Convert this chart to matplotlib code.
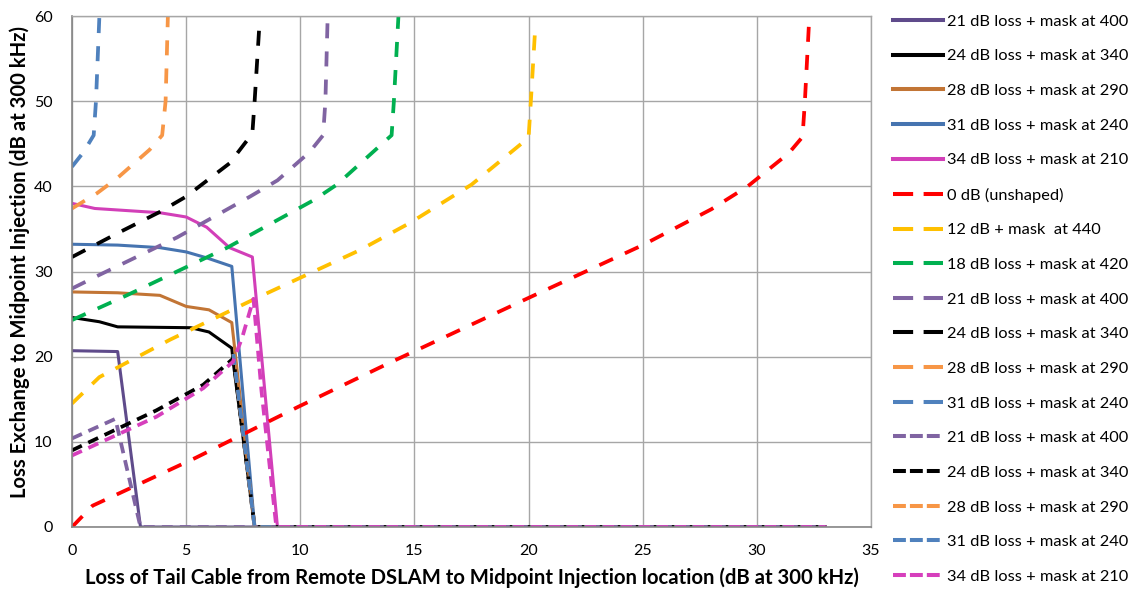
import numpy as np
import matplotlib
matplotlib.use('Agg')
import matplotlib.pyplot as plt

plt.rcParams['font.family'] = ['Lato', 'DejaVu Sans']

#------------------------------------------------------------------------------
# data (x = tail loss dB, y = exchange loss dB)
#------------------------------------------------------------------------------

# solid curves
s21_x = [0, 2.0, 3.0, 33]
s21_y = [20.7, 20.6, 0, 0]
s24_x = [0, 1.2, 2.0, 5.2, 6.0, 7.0, 7.05, 8.0, 33]
s24_y = [24.6, 24.1, 23.5, 23.4, 22.9, 21.0, 19.6, 0, 0]
s28_x = [0, 2.0, 3.85, 5.0, 6.0, 7.0, 8.0, 33]
s28_y = [27.6, 27.5, 27.2, 25.9, 25.5, 24.0, 0, 0]
s31_x = [0, 2.0, 3.85, 5.0, 5.9, 7.0, 8.0, 33]
s31_y = [33.2, 33.1, 32.8, 32.3, 31.6, 30.6, 0, 0]
s34_x = [0, 1.0, 3.85, 5.0, 5.9, 6.9, 7.9, 9.0, 33]
s34_y = [38.0, 37.4, 36.9, 36.4, 35.2, 32.8, 31.7, 0, 0]

# long dashed curves
d0_x = [0, 0.9, 5.4, 9.9, 13.85, 20, 25, 28, 29.6, 31.4, 32.0, 32.1, 32.3]
d0_y = [0, 2.5, 8.1, 14.1, 19.2, 26.9, 33.1, 37.3, 40.0, 43.9, 45.8, 49.8, 60]
d12_x = [0, 1.2, 4.3, 8.1, 12.6, 14.8, 17.5, 20.0, 20.1, 20.3]
d12_y = [14.5, 17.6, 22.0, 26.9, 32.5, 35.7, 40.2, 45.7, 50, 59]
d18_x = [0, 2.4, 6.8, 10.6, 11.6, 14.0, 14.1, 14.3]
d18_y = [24.3, 27.2, 32.8, 38.4, 40.2, 46.0, 50, 60]
d21_x = [0, 1.2, 4.6, 7.8, 9.0, 10.4, 11.0, 11.1, 11.2]
d21_y = [28.0, 29.6, 34.0, 38.8, 40.7, 44.0, 46.0, 50, 60]
d24_x = [0, 2.0, 3.85, 5.0, 6.9, 7.9, 8.0, 8.2]
d24_y = [31.7, 34.5, 37.0, 38.8, 42.7, 46.2, 50, 58.6]
d28_x = [0, 1.1, 2.0, 3.4, 3.95, 4.1, 4.2]
d28_y = [37.4, 39.2, 41.0, 44.3, 46.0, 50, 60]
d31_x = [0, 0.5, 0.95, 1.05, 1.2]
d31_y = [42.3, 44.0, 46.0, 50, 60]

# short dashed curves
q21_x = [0, 1.9, 3.0, 33]
q21_y = [10.4, 12.7, 0, 0]
q24_x = [0, 3.7, 5.75, 7.07, 8.0, 33]
q24_y = [9.0, 13.7, 16.7, 19.8, 0, 0]
q28_x = [7.07, 8.0, 33]
q28_y = [20.3, 0, 0]
q31_x = [7.07, 8.0, 33]
q31_y = [20.3, 0, 0]
q34_x = [0, 3.7, 5.75, 7.05, 7.45, 7.95, 8.3, 8.95, 33]
q34_y = [8.4, 12.95, 16.3, 19.4, 22.2, 26.8, 16.0, 0, 0]

labels = ['21 dB loss + mask at 400', '24 dB loss + mask at 340',
          '28 dB loss + mask at 290', '31 dB loss + mask at 240',
          '34 dB loss + mask at 210', '0 dB (unshaped)',
          '12 dB + mask  at 440', '18 dB loss + mask at 420',
          '21 dB loss + mask at 400', '24 dB loss + mask at 340',
          '28 dB loss + mask at 290', '31 dB loss + mask at 240',
          '21 dB loss + mask at 400', '24 dB loss + mask at 340',
          '28 dB loss + mask at 290', '31 dB loss + mask at 240',
          '34 dB loss + mask at 210']

xlabel = 'Loss of Tail Cable from Remote DSLAM to Midpoint Injection location (dB at 300 kHz)'
ylabel = 'Loss Exchange to Midpoint Injection (dB at 300 kHz)'

#------------------------------------------------------------------------------

W, H = 1135, 591
fig = plt.figure(figsize=(W/100, H/100), dpi=100)
ax = fig.add_axes([72/W, 1-527/H, 799/W, 511/H])
rend = fig.canvas.get_renderer()

def fit_size(txt, size, target, weight='normal'):
    # scale a font size so that the text spans target pixels
    t = fig.text(0, 0, txt, fontsize=size, fontweight=weight)
    w = t.get_window_extent(renderer=rend).width
    t.remove()
    return size*target/w

fs_leg = fit_size(labels[0], 12, 180)
fs_lab = fit_size(xlabel, 12, 769, 'bold')
fs_tick = fit_size('35', 12, 18.5)

lw = 2.2
lwd = 2.7
longd = (4.0, 3.5)
shortd = (2.9, 1.9)

series = [
    (s21_x, s21_y, '#5f4b8b', None),
    (s24_x, s24_y, 'black', None),
    (s28_x, s28_y, '#c27535', None),
    (s31_x, s31_y, '#4674b0', None),
    (s34_x, s34_y, '#d23fb8', None),
    (d0_x, d0_y, '#ff0000', longd),
    (d12_x, d12_y, '#ffc000', longd),
    (d18_x, d18_y, '#00b050', longd),
    (d21_x, d21_y, '#8064a2', longd),
    (d24_x, d24_y, 'black', longd),
    (d28_x, d28_y, '#f79646', longd),
    (d31_x, d31_y, '#4f81bd', longd),
    (q21_x, q21_y, '#8064a2', shortd),
    (q24_x, q24_y, 'black', shortd),
    (q28_x, q28_y, '#f79646', shortd),
    (q31_x, q31_y, '#4f81bd', shortd),
    (q34_x, q34_y, '#d63fbc', shortd),
]

for (xx, yy, col, dash), lab in zip(series, labels):
    if dash is None:
        ax.plot(xx, yy, color=col, lw=lw, label=lab, solid_joinstyle='round')
    else:
        ax.plot(xx, yy, color=col, lw=lwd, label=lab, dashes=dash)

ax.set_xlim(0, 35)
ax.set_ylim(0, 60)
ax.set_xticks(np.arange(0, 36, 5))
ax.set_yticks(np.arange(0, 61, 10))
ax.grid(color='#a6a6a6', lw=1.0)
ax.set_axisbelow(True)
for sp in ['top', 'right']:
    ax.spines[sp].set_color('#a6a6a6')
    ax.spines[sp].set_linewidth(1.0)
for sp in ['left', 'bottom']:
    ax.spines[sp].set_color('#868686')
    ax.spines[sp].set_linewidth(1.2)
ax.tick_params(axis='both', length=0, labelsize=fs_tick)
ax.tick_params(axis='x', pad=12)
ax.tick_params(axis='y', pad=14)

fig.text(472/W, 1-578/H, xlabel, ha='center', va='center',
         fontsize=fs_lab, fontweight='bold')
fig.text(20/W, 1-262/H, ylabel, ha='center', va='center', rotation=90,
         fontsize=fs_lab, fontweight='bold')

# legend: first pass to measure the row pitch, second pass to place it
fs_px = fs_leg*100/72
ls = 1.0
leg = fig.legend(loc='upper left', bbox_to_anchor=(893/W, 1-12/H), frameon=False,
                 fontsize=fs_leg, handlelength=50/fs_px, handletextpad=4/fs_px,
                 labelspacing=ls, borderpad=0, borderaxespad=0)
fig.canvas.draw()
tb = [t.get_window_extent(renderer=rend) for t in leg.get_texts()]
pitch = (tb[0].y0 - tb[-1].y0)/16
row = pitch - ls*fs_px
ls_new = (34.7 - row)/fs_px
leg.remove()
leg = fig.legend(loc='upper left', bbox_to_anchor=(893/W, 1-12/H), frameon=False,
                 fontsize=fs_leg, handlelength=50/fs_px, handletextpad=4/fs_px,
                 labelspacing=ls_new, borderpad=0, borderaxespad=0)
fig.canvas.draw()
t0 = leg.get_texts()[0].get_window_extent(renderer=rend)
yc = H - (t0.y0 + t0.y1)/2
leg.set_bbox_to_anchor((893/W, 1-(12 + 21.7 - yc)/H), transform=fig.transFigure)

# legend keys drawn a bit heavier, with the key dash patterns of the original
for i, ln in enumerate(leg.get_lines()):
    ln.set_linewidth(2.9)
    if 5 <= i <= 11:
        ln.set_dashes((5.0, 2.6))
    elif i >= 12:
        ln.set_dashes((3.2, 1.0))

plt.savefig('out.png', dpi=100)
